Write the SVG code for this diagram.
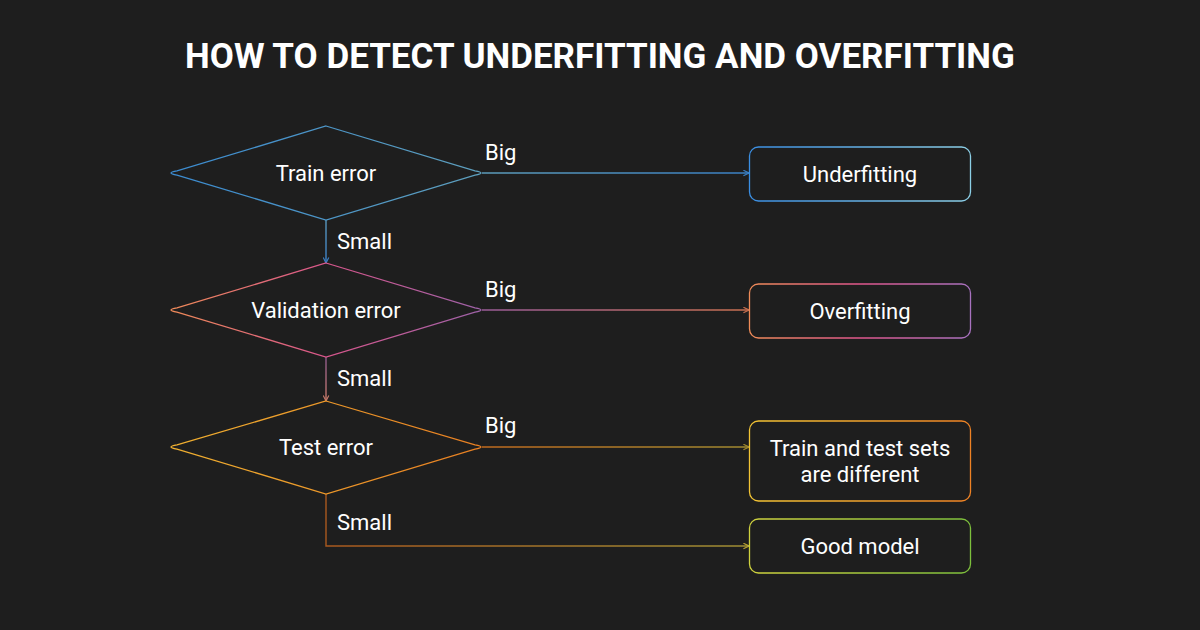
<svg xmlns="http://www.w3.org/2000/svg" width="1200" height="630" viewBox="0 0 1200 630">
<defs>
<style>
.t{font-family:Roboto,"Liberation Sans",sans-serif;font-size:22px;fill:#ffffff;text-anchor:middle}
.title{font-family:Roboto,"Liberation Sans",sans-serif;font-size:35px;font-weight:bold;fill:#ffffff;text-anchor:middle}
.lbl{font-family:Roboto,"Liberation Sans",sans-serif;font-size:22px;fill:#ffffff}
.sh{fill:#1e1e1e;stroke-width:1.3}
.c{fill:none;stroke-width:1.4}
</style>
<linearGradient id="gD1" x1="0" y1="0" x2="1" y2="0"><stop offset="0" stop-color="#3b8bd0"/><stop offset="1" stop-color="#5e9fbd"/></linearGradient>
<linearGradient id="gB1" x1="0" y1="0" x2="1" y2="0"><stop offset="0" stop-color="#3a8ee2"/><stop offset="1" stop-color="#8ccfe6"/></linearGradient>
<linearGradient id="gD2" x1="0" y1="0" x2="1" y2="0"><stop offset="0" stop-color="#ef8a58"/><stop offset="0.5" stop-color="#d9568c"/><stop offset="1" stop-color="#9e62a8"/></linearGradient>
<linearGradient id="gB2" x1="0" y1="0" x2="1" y2="0"><stop offset="0" stop-color="#f08c58"/><stop offset="0.5" stop-color="#e0568c"/><stop offset="1" stop-color="#a872c0"/></linearGradient>
<linearGradient id="gD3" x1="0" y1="0" x2="1" y2="0"><stop offset="0" stop-color="#f0b030"/><stop offset="1" stop-color="#e87f22"/></linearGradient>
<linearGradient id="gB3" x1="0" y1="0" x2="1" y2="0"><stop offset="0" stop-color="#f2c434"/><stop offset="1" stop-color="#ef8224"/></linearGradient>
<linearGradient id="gB4" x1="0" y1="0" x2="1" y2="0"><stop offset="0" stop-color="#cfd23e"/><stop offset="1" stop-color="#7dc03c"/></linearGradient>
<linearGradient id="gC1" gradientUnits="userSpaceOnUse" x1="482" y1="0" x2="749" y2="0"><stop offset="0" stop-color="#5c9cba"/><stop offset="1" stop-color="#3a80c4"/></linearGradient>
<linearGradient id="gV1" gradientUnits="userSpaceOnUse" x1="0" y1="220" x2="0" y2="263"><stop offset="0" stop-color="#5a98bc"/><stop offset="1" stop-color="#3a80c8"/></linearGradient>
<linearGradient id="gC2" gradientUnits="userSpaceOnUse" x1="482" y1="0" x2="749" y2="0"><stop offset="0" stop-color="#9a5c98"/><stop offset="1" stop-color="#c87050"/></linearGradient>
<linearGradient id="gV2" gradientUnits="userSpaceOnUse" x1="0" y1="357" x2="0" y2="401"><stop offset="0" stop-color="#8e5a8c"/><stop offset="1" stop-color="#c87a6a"/></linearGradient>
<linearGradient id="gC3" gradientUnits="userSpaceOnUse" x1="482" y1="0" x2="749" y2="0"><stop offset="0" stop-color="#c06a1e"/><stop offset="1" stop-color="#a08a30"/></linearGradient>
<linearGradient id="gC4" gradientUnits="userSpaceOnUse" x1="326" y1="0" x2="749" y2="0"><stop offset="0" stop-color="#a8581e"/><stop offset="1" stop-color="#9e8e34"/></linearGradient>
<marker id="a1" viewBox="0 0 10 10" refX="9" refY="5" markerWidth="7" markerHeight="7" markerUnits="userSpaceOnUse" orient="auto"><path d="M1,1 L9,5 L1,9" fill="none" stroke="#3a80c4" stroke-width="1.6"/></marker>
<marker id="a1v" viewBox="0 0 10 10" refX="9" refY="5" markerWidth="7" markerHeight="7" markerUnits="userSpaceOnUse" orient="auto"><path d="M1,1 L9,5 L1,9" fill="none" stroke="#3a80c8" stroke-width="1.6"/></marker>
<marker id="a2" viewBox="0 0 10 10" refX="9" refY="5" markerWidth="7" markerHeight="7" markerUnits="userSpaceOnUse" orient="auto"><path d="M1,1 L9,5 L1,9" fill="none" stroke="#c87050" stroke-width="1.6"/></marker>
<marker id="a2v" viewBox="0 0 10 10" refX="9" refY="5" markerWidth="7" markerHeight="7" markerUnits="userSpaceOnUse" orient="auto"><path d="M1,1 L9,5 L1,9" fill="none" stroke="#c87a6a" stroke-width="1.6"/></marker>
<marker id="a3" viewBox="0 0 10 10" refX="9" refY="5" markerWidth="7" markerHeight="7" markerUnits="userSpaceOnUse" orient="auto"><path d="M1,1 L9,5 L1,9" fill="none" stroke="#a08a30" stroke-width="1.6"/></marker>
<marker id="a4" viewBox="0 0 10 10" refX="9" refY="5" markerWidth="7" markerHeight="7" markerUnits="userSpaceOnUse" orient="auto"><path d="M1,1 L9,5 L1,9" fill="none" stroke="#b8a434" stroke-width="1.6"/></marker>
</defs>
<rect width="1200" height="630" fill="#1e1e1e"/>
<text class="title" x="600" y="68">HOW TO DETECT UNDERFITTING AND OVERFITTING</text>

<g id="connectors">
<path class="c" d="M482,173 L749,173" stroke="url(#gC1)" marker-end="url(#a1)"/>
<path class="c" d="M326,220 L326,263" stroke="url(#gV1)" marker-end="url(#a1v)"/>
<path class="c" d="M482,310 L749,310" stroke="url(#gC2)" marker-end="url(#a2)"/>
<path class="c" d="M326,357 L326,401" stroke="url(#gV2)" marker-end="url(#a2v)"/>
<path class="c" d="M482,447 L749,447" stroke="url(#gC3)" marker-end="url(#a3)"/>
<path class="c" d="M326,494 L326,546 L749,546" stroke="url(#gC4)" marker-end="url(#a4)"/>
<text class="lbl" x="485" y="160">Big</text>
<text class="lbl" x="337" y="249">Small</text>
<text class="lbl" x="485" y="297">Big</text>
<text class="lbl" x="337" y="386">Small</text>
<text class="lbl" x="485" y="433">Big</text>
<text class="lbl" x="337" y="530">Small</text>
</g>

<g id="train-error">
<path class="sh" stroke="url(#gD1)" d="M326,126 L475,170.9 Q487,173 475,175.1 L326,220 L177,175.1 Q165,173 177,170.9 Z"/>
<text class="t" x="326" y="181">Train error</text>
</g>
<g id="validation-error">
<path class="sh" stroke="url(#gD2)" d="M326,263 L475,307.9 Q487,310 475,312.1 L326,357 L177,312.1 Q165,310 177,307.9 Z"/>
<text class="t" x="326" y="318">Validation error</text>
</g>
<g id="test-error">
<path class="sh" stroke="url(#gD3)" d="M326,401 L475,444.9 Q487,447 475,449.1 L326,494 L177,449.1 Q165,447 177,444.9 Z"/>
<text class="t" x="326" y="455">Test error</text>
</g>
<g id="underfitting">
<rect class="sh" stroke="url(#gB1)" x="749.5" y="147" width="221" height="54" rx="9"/>
<text class="t" x="860" y="182">Underfitting</text>
</g>
<g id="overfitting">
<rect class="sh" stroke="url(#gB2)" x="749.5" y="284" width="221" height="54" rx="9"/>
<text class="t" x="860" y="319">Overfitting</text>
</g>
<g id="different">
<rect class="sh" stroke="url(#gB3)" x="749.5" y="421" width="221" height="80" rx="9"/>
<text class="t" x="860" y="456">Train and test sets</text>
<text class="t" x="860" y="482">are different</text>
</g>
<g id="good-model">
<rect class="sh" stroke="url(#gB4)" x="749.5" y="519" width="221" height="54" rx="9"/>
<text class="t" x="860" y="554">Good model</text>
</g>
</svg>
